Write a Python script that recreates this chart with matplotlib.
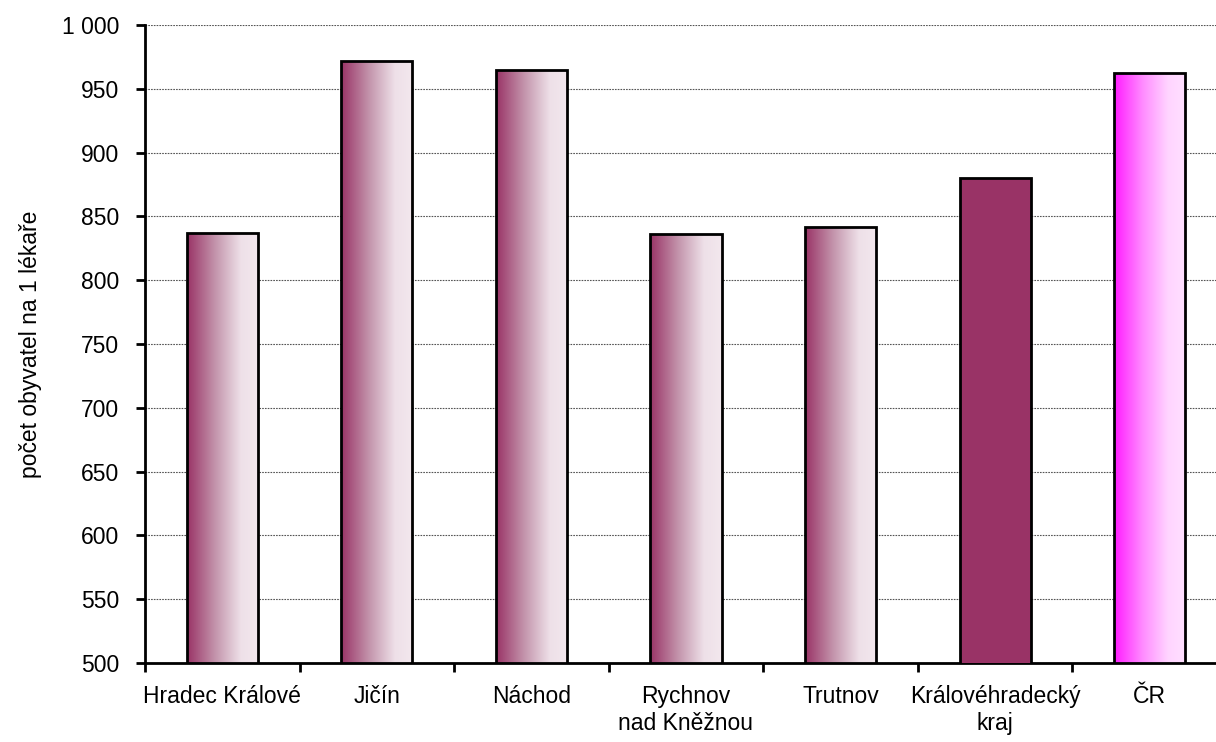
import numpy as np
import matplotlib.pyplot as plt
from matplotlib.colors import LinearSegmentedColormap

plt.rcParams['font.family'] = ['Liberation Sans', 'DejaVu Sans']

okresy = ["Hradec Králové", "Jičín", "Náchod", "Rychnov\nnad Kněžnou",
          "Trutnov", "Královéhradecký\nkraj", "ČR"]
hodnoty = [837, 972, 965, 836, 842, 880, 962]
styl = ["grad", "grad", "grad", "grad", "grad", "solid", "cr"]

cm_okres = LinearSegmentedColormap.from_list(
    "okres", [(0, "#993366"), (0.4, "#C496AD"), (0.75, "#EEE0E8"), (1, "#F3E8EE")])
cm_cr = LinearSegmentedColormap.from_list(
    "cr", [(0, "#FF1AFF"), (0.4, "#FF8CFF"), (0.75, "#FFD4FF"), (1, "#FFE0FF")])

fig = plt.figure(figsize=(12.16, 7.42), dpi=100)
ax = fig.add_axes([145/1216, 79/742, 1082/1216, 638/742])

x = np.arange(len(okresy))
bars = ax.bar(x, hodnoty, width=0.46, color="none", edgecolor="black", linewidth=2, zorder=3)
grad = np.linspace(0, 1, 256).reshape(1, -1)
for b, s in zip(bars, styl):
    x0, w, h = b.get_x(), b.get_width(), b.get_height()
    if s == "solid":
        b.set_facecolor("#993366")
        continue
    cmap = cm_okres if s == "grad" else cm_cr
    im = ax.imshow(grad, cmap=cmap, aspect="auto", extent=(x0, x0 + w, 500, h), zorder=2)
    im.set_clip_path(b)

ax.set_xlim(-0.5, len(okresy) - 0.5)
ax.set_ylim(500, 1000)
ax.set_yticks(np.arange(500, 1001, 50))
ax.set_yticklabels([f"{v:,}".replace(",", " ") for v in range(500, 1001, 50)], fontsize=16.5)
ax.set_xticks(x)
ax.set_xticklabels(okresy, fontsize=16.5)
ax.set_xticks(np.arange(-0.5, len(okresy)), minor=True)
ax.tick_params(axis="x", which="major", length=0, pad=16)
ax.tick_params(axis="x", which="minor", length=6.5, width=2, direction="out")
ax.tick_params(axis="y", length=6.5, width=2, direction="out", pad=12)
ax.grid(axis="y", color="#555555", linestyle=(0, (1.5, 1)), linewidth=0.8, zorder=0)
ax.set_axisbelow(True)
for s in ["top", "right"]:
    ax.spines[s].set_visible(False)
for s in ["left", "bottom"]:
    ax.spines[s].set_linewidth(2)
ax.set_ylabel("počet obyvatel na 1 lékaře", fontsize=16.5, labelpad=14)

fig.savefig("out.png", dpi=100)
